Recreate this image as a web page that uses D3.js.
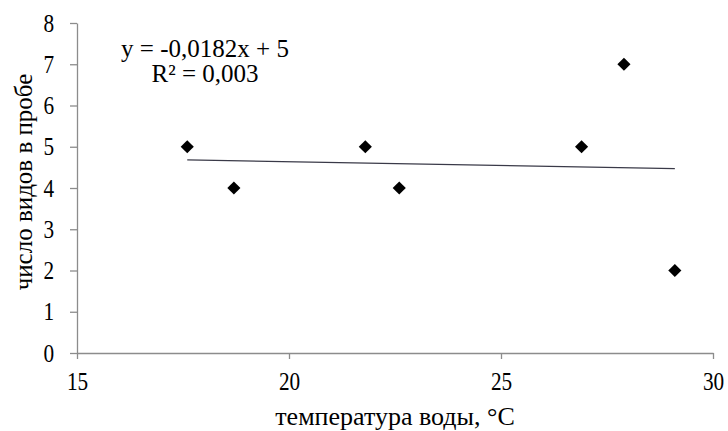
<!DOCTYPE html>
<html>
<head>
<meta charset="utf-8">
<script src="https://cdn.jsdelivr.net/npm/d3@7"></script>
<style>
  body { margin: 0; background: #fff; }
</style>
</head>
<body>
<div id="chart"></div>
<script>
// данные
var tempValues = [17.6, 18.7, 21.8, 22.6, 26.9, 27.9, 29.1];
var speciesValues = [5, 4, 5, 4, 5, 7, 2];
var xTicks = [15, 20, 25, 30];
var yTicks = [0, 1, 2, 3, 4, 5, 6, 7, 8];
var trendSlope = -0.0182;
var trendIntercept = 5;
var equationLines = ["y = -0,0182x + 5", "R² = 0,003"];

var fontFamily = "'Liberation Serif', Tinos, 'Times New Roman', 'DejaVu Serif', serif";
var width = 728, height = 431;
var margin = {left: 77, right: 15, top: 23, bottom: 78};

var svg = d3.select("#chart").append("svg")
    .attr("width", width).attr("height", height)
    .attr("font-family", fontFamily);

var x = d3.scaleLinear().domain([15, 30]).range([margin.left, width - margin.right]);
var y = d3.scaleLinear().domain([0, 8]).range([height - margin.bottom, margin.top]);

var axisColor = "#8c8c8c";

// ось X
var gx = svg.append("g")
    .attr("transform", "translate(0," + y(0) + ")")
    .call(d3.axisBottom(x).tickValues(xTicks).tickSize(6).tickSizeOuter(0).tickPadding(13))
    .attr("font-family", fontFamily).attr("font-size", 25);
gx.select(".domain").attr("stroke", axisColor).attr("stroke-width", 1.3);
gx.selectAll(".tick line").attr("stroke", axisColor).attr("stroke-width", 1.3);
gx.selectAll(".tick text").attr("transform", "scale(0.85,1)");

// ось Y
var gy = svg.append("g")
    .attr("transform", "translate(" + x(15) + ",0)")
    .call(d3.axisLeft(y).tickValues(yTicks).tickSize(7).tickSizeOuter(0))
    .attr("font-family", fontFamily).attr("font-size", 25);
gy.select(".domain").attr("stroke", axisColor).attr("stroke-width", 1.3);
gy.selectAll(".tick line").attr("stroke", axisColor).attr("stroke-width", 1.3);
gy.selectAll(".tick text").attr("x", -27).attr("transform", "scale(0.85,1)");

// линия тренда
var xMin = d3.min(tempValues), xMax = d3.max(tempValues);
svg.append("line")
    .attr("x1", x(xMin)).attr("y1", y(trendSlope * xMin + trendIntercept))
    .attr("x2", x(xMax)).attr("y2", y(trendSlope * xMax + trendIntercept))
    .attr("stroke", "#3a3a48").attr("stroke-width", 1.3);

// точки
var diamond = d3.symbol().type(d3.symbolDiamond2).size(110);
svg.append("g").selectAll("path")
    .data(tempValues)
    .enter()
    .append("path")
    .attr("d", diamond)
    .attr("transform", function(d, i){
        return "translate(" + x(d) + "," + y(speciesValues[i]) + ")";
    })
    .attr("fill", "#000");

// уравнение
svg.append("g").selectAll("text")
    .data(equationLines)
    .enter()
    .append("text")
    .attr("x", 205)
    .attr("y", function(d, i){ return 57 + i * 25; })
    .attr("text-anchor", "middle")
    .attr("font-size", 25)
    .text(function(d){ return d; });

// подписи осей
svg.append("text")
    .attr("x", 395)
    .attr("y", 425)
    .attr("text-anchor", "middle")
    .attr("font-size", 26)
    .text("температура воды, °С");

svg.append("text")
    .attr("transform", "translate(32,182) rotate(-90)")
    .attr("text-anchor", "middle")
    .attr("font-size", 25)
    .text("число видов в пробе");
</script>
</body>
</html>
